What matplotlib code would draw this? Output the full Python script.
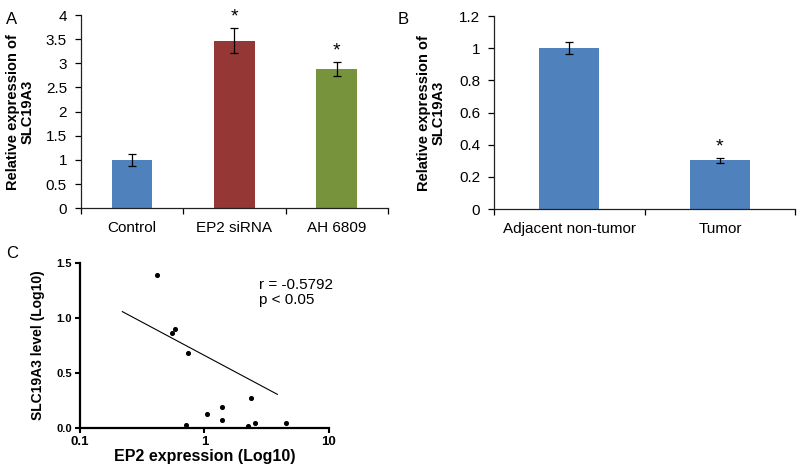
import matplotlib
matplotlib.use("Agg")
import matplotlib.pyplot as plt
import numpy as np

plt.rcParams['font.family'] = ['Liberation Sans', 'DejaVu Sans']

# Panel A data
a_categories = ["Control", "EP2 siRNA", "AH 6809"]
a_values = [1.0, 3.47, 2.88]
a_errors = [0.13, 0.26, 0.15]
a_colors = ["#4F81BD", "#953735", "#77933C"]
a_sig = [False, True, True]
a_yticks = [0, 0.5, 1, 1.5, 2, 2.5, 3, 3.5, 4]

# Panel B data
b_categories = ["Adjacent non-tumor", "Tumor"]
b_values = [1.0, 0.303]
b_errors = [0.037, 0.015]
b_sig = [False, True]
b_yticks = [0, 0.2, 0.4, 0.6, 0.8, 1, 1.2]

# Panel C data
c_x = [0.415, 0.547, 0.578, 0.734, 0.713, 1.057, 1.387, 1.387, 2.23, 2.38, 2.53, 4.55]
c_y = [1.396, 0.861, 0.897, 0.685, 0.024, 0.125, 0.186, 0.073, 0.018, 0.274, 0.043, 0.046]
c_line_x = [0.219, 3.86]
c_line_y = [1.059, 0.304]

fig = plt.figure(figsize=(8, 4.71), dpi=100)

def fmt_num(v):
    return "%g" % v

def bar_panel(ax, cats, vals, errs, colors, sig, yticks, ymax):
    n = len(cats)
    x = np.arange(n)
    ax.bar(x, vals, width=0.4, color=colors, zorder=2)
    ax.errorbar(x, vals, yerr=errs, fmt='none', ecolor='black', elinewidth=0.9,
                capsize=3, capthick=0.9, zorder=3)
    for xi, v, e, s in zip(x, vals, errs, sig):
        if s:
            ax.text(xi, v + e + ymax * 0.015, "*", ha='center', va='bottom', fontsize=14)
    ax.set_xlim(-0.5, n - 0.5)
    ax.set_ylim(0, ymax)
    ax.set_yticks(yticks)
    ax.set_yticklabels([fmt_num(t) for t in yticks], fontsize=11)
    ax.set_xticks(np.arange(n + 1) - 0.5, minor=False)
    ax.set_xticklabels([])
    ax.set_xticks(x, minor=True)
    ax.set_xticklabels(cats, minor=True, fontsize=11)
    ax.tick_params(axis='x', which='minor', length=0, pad=9)
    ax.tick_params(axis='x', which='major', length=4, direction='out', width=0.9)
    ax.tick_params(axis='y', length=4, direction='out', width=0.9, pad=6)
    for sp in ['top', 'right']:
        ax.spines[sp].set_visible(False)
    for sp in ['left', 'bottom']:
        ax.spines[sp].set_linewidth(0.9)
        ax.spines[sp].set_color('#222222')
    ax.set_ylabel("Relative expression of\nSLC19A3", fontsize=10.5, fontweight='bold',
                  linespacing=1.1)

axA = fig.add_axes([0.101, 0.558, 0.384, 0.41])
bar_panel(axA, a_categories, a_values, a_errors, a_colors, a_sig, a_yticks, 4)
axA.yaxis.set_label_coords(-0.15, 0.5)

axB = fig.add_axes([0.6175, 0.556, 0.3765, 0.41])
bar_panel(axB, b_categories, b_values, b_errors, ["#4F81BD"] * 2, b_sig, b_yticks, 1.2)
axB.yaxis.set_label_coords(-0.16, 0.5)

axC = fig.add_axes([0.1, 0.092, 0.311, 0.349])
axC.scatter(c_x, c_y, s=7, color='black', zorder=3)
axC.plot(c_line_x, c_line_y, color='black', lw=0.8)
axC.set_xscale('log')
axC.set_xlim(0.1, 10)
axC.set_ylim(0, 1.5)
axC.set_xticks([0.1, 1, 10])
axC.set_xticklabels(["0.1", "1", "10"], fontsize=9.5, fontweight='bold')
axC.xaxis.set_minor_locator(matplotlib.ticker.NullLocator())
axC.set_yticks([0, 0.5, 1.0, 1.5])
axC.set_yticklabels(["0.0", "0.5", "1.0", "1.5"], fontsize=8, fontweight='bold')
axC.tick_params(length=3.5, width=1.5, direction='out', pad=2.5)
for sp in ['top', 'right']:
    axC.spines[sp].set_visible(False)
for sp in ['left', 'bottom']:
    axC.spines[sp].set_linewidth(1.6)
axC.set_xlabel("EP2 expression (Log10)", fontsize=11.5, fontweight='bold', labelpad=1)
axC.set_ylabel("SLC19A3 level (Log10)", fontsize=10, fontweight='bold', labelpad=8)
axC.text(0.72, 0.91, "r = -0.5792\np < 0.05", transform=axC.transAxes, fontsize=11,
         va='top', ha='left', linespacing=1.1)

fig.text(0.008, 0.975, "A", fontsize=12, va='top')
fig.text(0.497, 0.975, "B", fontsize=12, va='top')
fig.text(0.008, 0.478, "C", fontsize=12, va='top')

fig.savefig("out.png", dpi=100)
